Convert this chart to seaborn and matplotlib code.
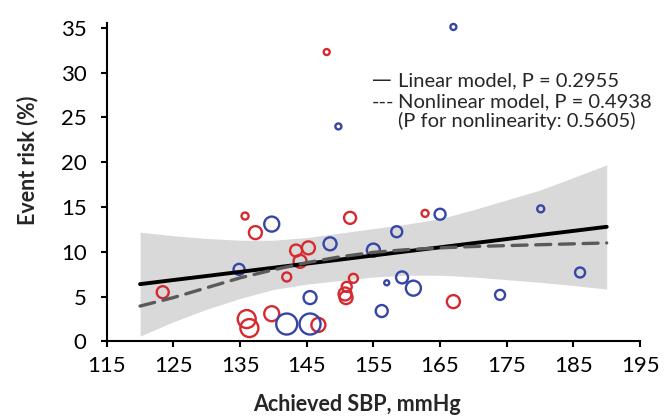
import matplotlib
matplotlib.use("Agg")
import matplotlib.pyplot as plt
import seaborn as sns
import pandas as pd
import numpy as np

# ---------------- data ----------------
red_x = [135.75, 137.3, 123.4, 136.0, 136.4, 151.5, 143.4, 145.25, 144.0, 142.0,
         152.0, 151.0, 150.75, 150.9, 139.75, 146.75, 162.75, 167.0, 148.0]
red_y = [14.0, 12.15, 5.5, 2.5, 1.5, 13.8, 10.15, 10.45, 8.95, 7.2,
         7.05, 6.1, 5.3, 4.9, 3.1, 1.85, 14.3, 4.45, 32.3]
red_w = [49, 169, 144, 324, 324, 144, 144, 169, 169, 81,
         81, 100, 169, 169, 225, 196, 49, 169, 36]

blue_x = [134.85, 139.75, 148.5, 155.0, 158.5, 157.0, 159.3, 161.0, 145.5, 156.25,
          142.0, 145.5, 165.0, 174.0, 180.1, 186.0, 167.0, 149.75]
blue_y = [8.05, 13.1, 10.9, 10.2, 12.25, 6.55, 7.15, 5.95, 4.9, 3.4,
          1.95, 1.95, 14.2, 5.2, 14.8, 7.7, 35.1, 24.0]
blue_w = [121, 225, 169, 169, 121, 25, 144, 225, 169, 144,
          441, 441, 121, 100, 49, 100, 36, 36]

fit_x = [120, 125, 130, 135, 140, 145, 150, 155, 160, 165, 170, 175, 180, 185, 190]
linear_y = [6.4, 6.86, 7.31, 7.77, 8.23, 8.69, 9.14, 9.6, 10.06, 10.51, 10.97, 11.43, 11.89, 12.34, 12.8]
nonlinear_y = [3.95, 4.9, 6.0, 7.1, 8.0, 8.8, 9.45, 9.95, 10.25, 10.45, 10.6, 10.7, 10.8, 10.9, 11.0]
ci_lower = [0.6, 2.2, 3.6, 4.8, 5.8, 6.4, 6.8, 7.2, 7.4, 7.4, 7.2, 6.9, 6.6, 6.25, 5.85]
ci_upper = [12.2, 11.8, 11.5, 11.3, 11.3, 11.6, 12.1, 12.6, 13.1, 13.7, 14.7, 15.8, 16.9, 18.3, 19.7]

x_ticks = [115, 125, 135, 145, 155, 165, 175, 185, 195]
y_ticks = [0, 5, 10, 15, 20, 25, 30, 35]

legend_lines = ["Linear model, P = 0.2955",
                "Nonlinear model, P = 0.4938",
                "(P for nonlinearity: 0.5605)"]

# ---------------- style ----------------
sns.set_theme(style="ticks")
plt.rcParams["font.family"] = ["Lato", "DejaVu Sans"]

RED = "#D42A30"
BLUE = "#3546A6"

fig = plt.figure(figsize=(6.7, 4.16), dpi=100)
ax = fig.add_axes([0.1593, 0.1791, 0.796, 0.7647])

# CI band
ax.fill_between(fit_x, ci_lower, ci_upper, color="#D9D9D9", lw=0, zorder=1)

# points
df_red = pd.DataFrame({"x": red_x, "y": red_y, "w": red_w})
df_blue = pd.DataFrame({"x": blue_x, "y": blue_y, "w": blue_w})
size_kw = dict(size_norm=(0, 441), sizes=(0, 441 * 0.5184), legend=False)
for df, col in [(df_red, RED), (df_blue, BLUE)]:
    sns.scatterplot(data=df, x="x", y="y", size="w", ax=ax, color=col,
                    facecolor="none", edgecolor=col, linewidth=1.7,
                    zorder=3, clip_on=False, **size_kw)

# fitted lines
fit_df = pd.DataFrame({"x": fit_x, "lin": linear_y, "nl": nonlinear_y})
sns.lineplot(data=fit_df, x="x", y="lin", ax=ax, color="black", lw=2.8, zorder=4)
sns.lineplot(data=fit_df, x="x", y="nl", ax=ax, color="#5A5A5A", lw=2.4,
             dashes=False, zorder=4)
ax.lines[-1].set_dashes([4.5, 2.6])
ax.lines[-1].set_dash_capstyle("round")

# axes
ax.set_xlim(115, 195)
ax.set_ylim(0, 35.5)
ax.set_xticks(x_ticks)
ax.set_yticks(y_ticks)
ax.set_xticklabels([str(t) for t in x_ticks])
ax.set_yticklabels([str(t) for t in y_ticks])
for s in ["top", "right"]:
    ax.spines[s].set_visible(False)
for s in ["left", "bottom"]:
    ax.spines[s].set_linewidth(1.5)
    ax.spines[s].set_color("black")
ax.tick_params(axis="both", direction="out", length=4.5, width=1.5,
               colors="black", labelsize=16)
ax.tick_params(axis="x", pad=6)
ax.tick_params(axis="y", pad=10)

ax.set_xlabel("Achieved SBP, mmHg", fontsize=15.5, fontweight="bold")
ax.set_ylabel("Event risk (%)", fontsize=15.5, fontweight="bold")
ax.xaxis.set_label_coords(0.47, -0.165)
ax.yaxis.set_label_coords(-0.128, 0.57)

# legend-style text
rows_y = [29.1, 26.75, 24.6]
ax.text(154.8, rows_y[0], "\u2014", fontsize=14, va="center", ha="left",
        family=["DejaVu Sans"])
ax.text(154.8, rows_y[1], "---", fontsize=14.5, va="center", ha="left")
for yy, t in zip(rows_y, legend_lines):
    ax.text(158.7, yy, t, fontsize=14.5, va="center", ha="left")

fig.savefig("out.png", dpi=100)
